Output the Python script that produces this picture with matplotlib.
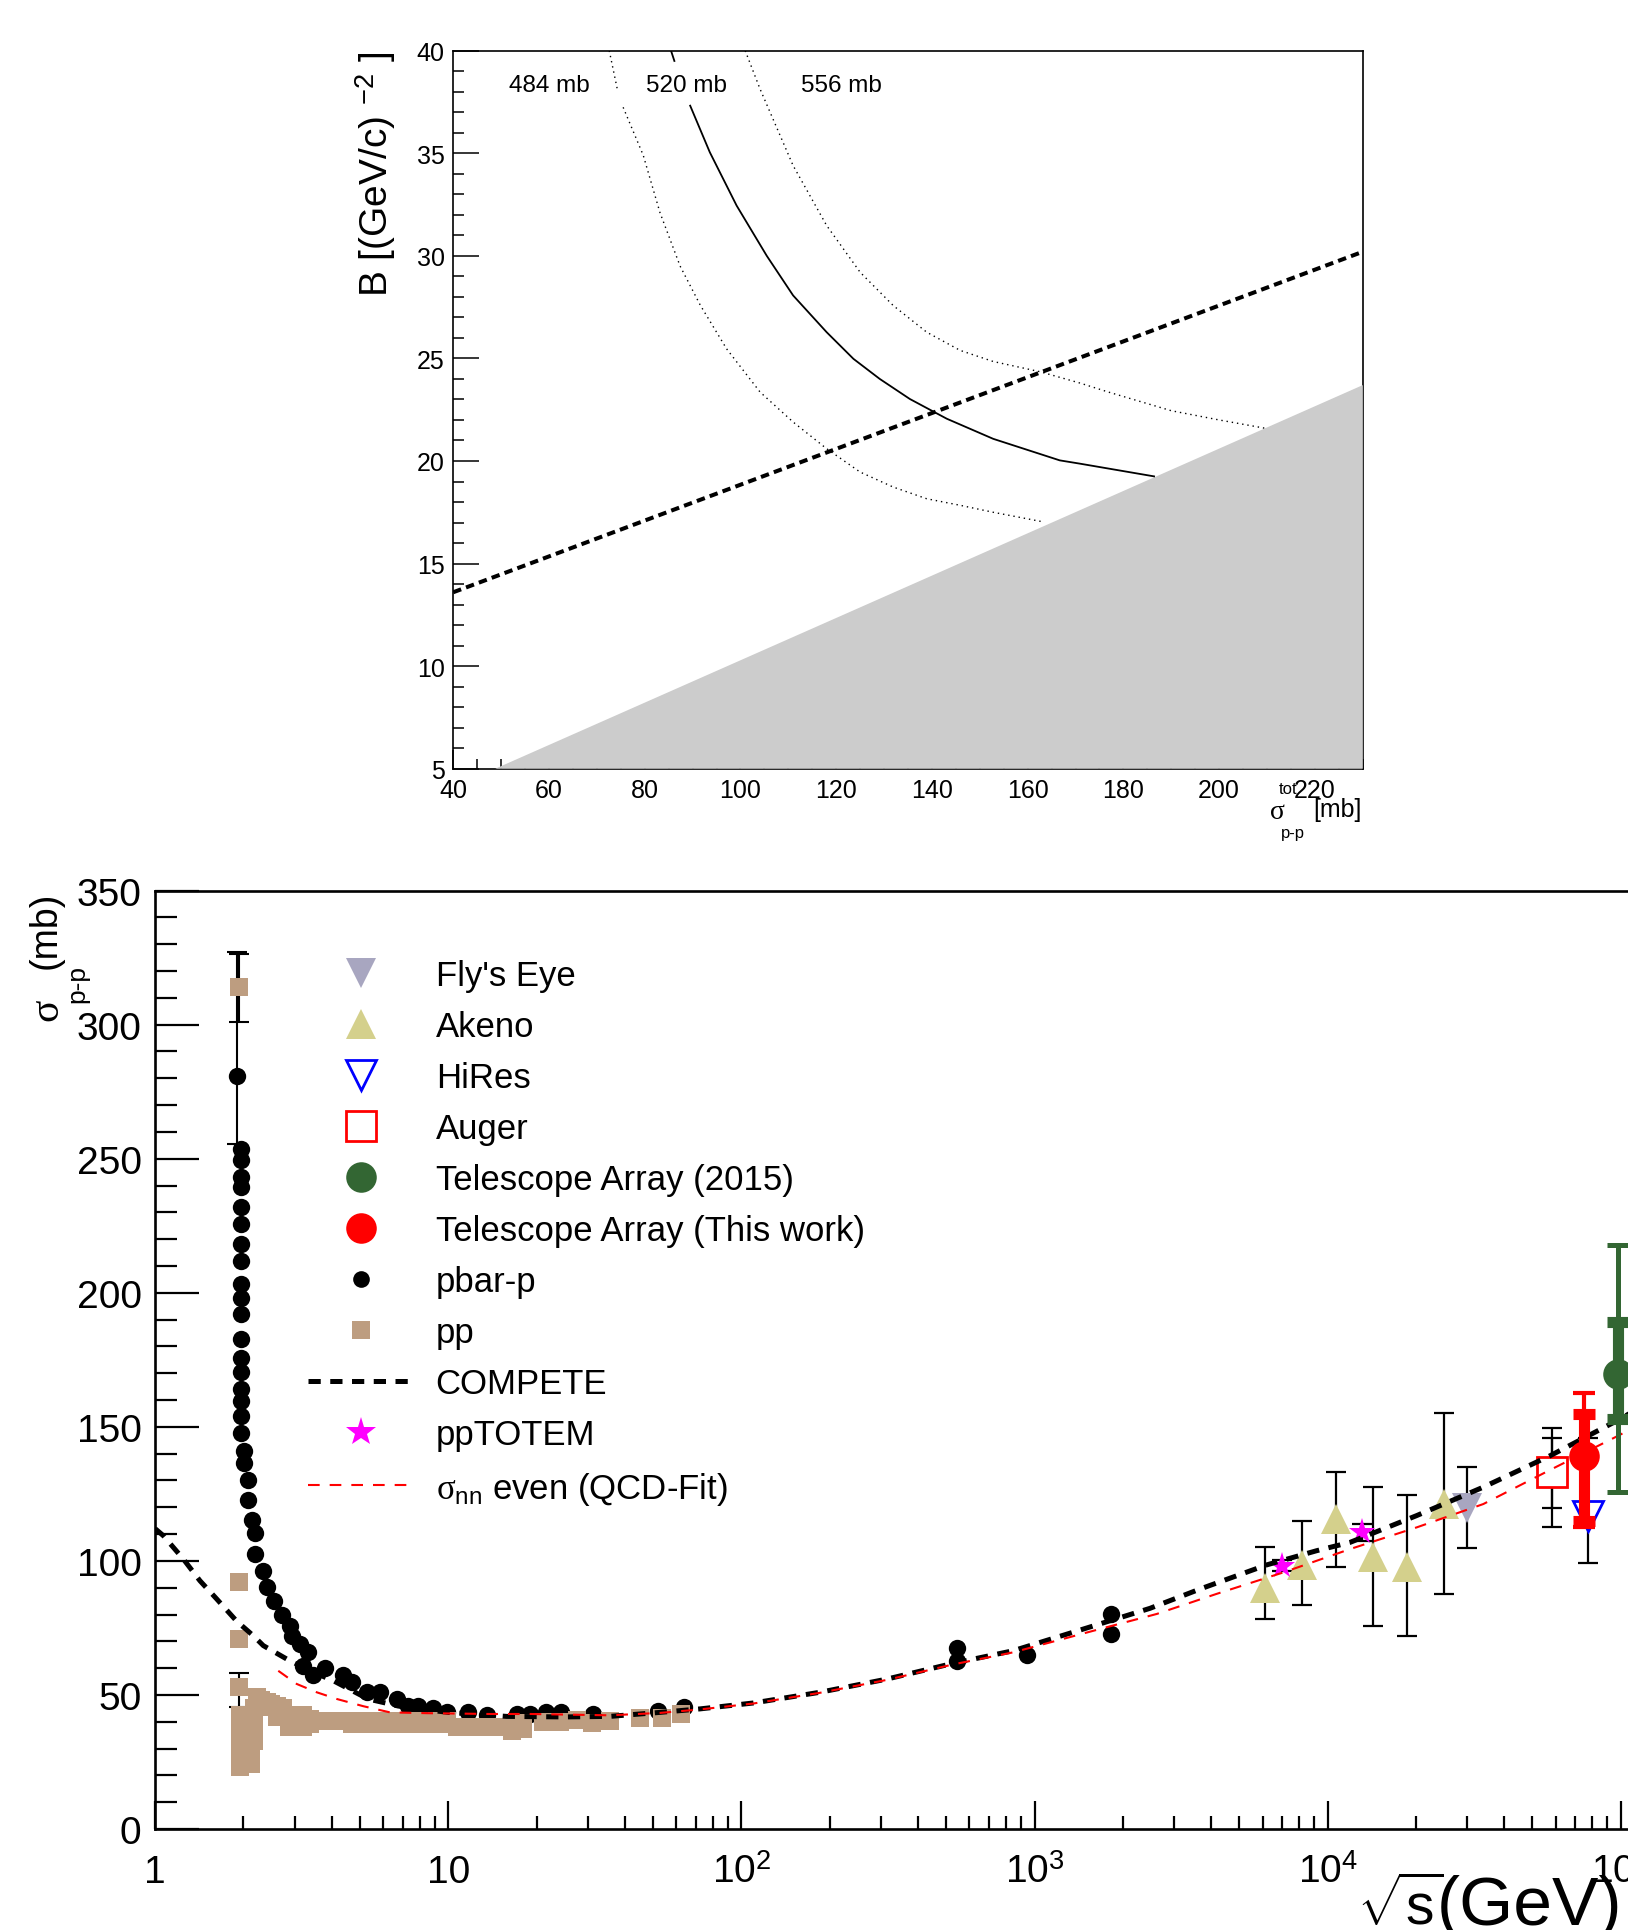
import numpy as np
import matplotlib
matplotlib.use('Agg')
import matplotlib.pyplot as plt
from matplotlib.lines import Line2D
from matplotlib.ticker import MultipleLocator, LogLocator, NullFormatter, FixedLocator

plt.rcParams['font.family'] = ['Liberation Sans', 'DejaVu Sans']
plt.rcParams['mathtext.fontset'] = 'custom'
plt.rcParams['mathtext.rm'] = 'Liberation Sans'
plt.rcParams['mathtext.it'] = 'Liberation Serif'
plt.rcParams['mathtext.bf'] = 'Liberation Sans:bold'

# --- top panel: B slope vs sigma_tot(p-p) ---
fill_sigma = [48.8, 230.0, 230.0]
fill_B = [5.0, 23.7, 5.0]
band_sigma = [40.0, 230.0]
band_B = [13.6, 30.2]

c484_sigma = [72.6, 74.3, np.nan, 75.5, 79.7, 83.2, 87.4, 91.6, 97.1, 104.1, 111.0, 118.0,
              125.0, 131.9, 138.9, 145.9, 152.8, 163.3]
c484_B = [40.0, 38.1, np.nan, 37.24, 34.9, 32.1, 29.5, 27.6, 25.47, 23.36, 21.9, 20.6,
          19.46, 18.73, 18.16, 17.84, 17.5, 17.03]
c520_sigma = [85.5, 86.2, np.nan, 89.5, 93.6, 99.2, 105.5, 111.0, 118.0, 123.6, 129.1, 135.4,
              143.1, 152.8, 166.7, 170.9, 186.4]
c520_B = [40.0, 39.5, np.nan, 37.32, 35.05, 32.45, 30.0, 28.07, 26.28, 24.98, 24.0, 23.02,
          22.06, 21.08, 20.03, 19.87, 19.25]
c556_sigma = [101.0, 104.1, 111.0, 118.0, 125.0, 131.9, 138.9, 145.9, 152.8, 162.6, 170.9,
              177.0, 190.0, 200.0, 209.5]
c556_B = [40.0, 38.13, 34.4, 31.48, 29.2, 27.58, 26.28, 25.39, 24.85, 24.35, 23.8,
          23.35, 22.45, 22.0, 21.6]
curve_labels = ['484 mb', '520 mb', '556 mb']
curve_label_sigma = [60.1, 88.8, 121.0]

# --- bottom panel: sigma_pp vs sqrt(s) ---
pbarp_x = [1.897] + [1.958] * 18 + [2.014, 2.014, 2.068, 2.073, 2.134, 2.195, 2.195, 2.327, 2.401,
           2.543, 2.701, 2.884, 2.923, 3.119, 3.33, 3.201, 3.462, 3.796, 4.384, 4.682, 5.268,
           5.848, 6.668, 7.303, 7.899, 8.889, 9.875, 11.70, 13.52, 17.12, 19.0, 21.5, 24.2,
           31.2, 52.0, 63.9, 542.8, 542.8, 940.4, 1824.0, 1824.0]
pbarp_y = [281.0, 253.6, 249.4, 243.2, 239.4, 231.9, 225.6, 218.3, 211.9, 203.3, 198.1, 191.9,
           182.8, 175.6, 170.6, 164.1, 159.5, 154.0, 147.8, 141.1, 136.4, 130.2, 122.8, 115.4,
           110.3, 102.6, 96.3, 90.2, 85.2, 79.9, 75.8, 72.1, 69.0, 65.9, 60.9, 57.4, 60.1, 57.4,
           54.7, 51.2, 51.2, 48.5, 46.0, 46.0, 45.0, 43.8, 43.5, 42.6, 42.9, 42.9, 43.5, 43.5,
           42.9, 44.1, 45.4, 67.4, 62.8, 64.9, 80.2, 72.7]
pbarp_err_x = [1.897]
pbarp_err_lo = [255.5]
pbarp_err_hi = [327.0]

pp_x = ([1.936, 1.936, 1.936, 1.936] + [1.942] * 8 + [2.117] * 5 + [2.17] * 4 +
        [2.231, 2.231, 2.30, 2.30, 2.40, 2.40, 2.48, 2.48, 2.60, 2.60, 2.72, 2.72,
         2.85, 2.85, 3.0, 3.0, 3.2, 3.2, 3.37, 3.37, 3.6, 3.9, 4.2, 4.5,
         4.7, 4.7, 5.1, 5.1, 5.5, 5.5, 6.0, 6.0, 6.5, 6.5, 7.1, 7.1, 7.7, 7.7,
         8.4, 8.4, 9.1, 9.1, 9.9, 9.9, 10.7, 11.5, 12.4, 13.3, 14.3, 15.3,
         16.5, 16.5, 18.0, 18.0, 21.1, 24.0, 27.4, 30.9, 35.7, 45.2, 53.7, 62.1])
pp_y = ([314.0, 92.0, 71.0, 53.1] +
        [42.6, 39.5, 36.5, 33.5, 30.5, 27.5, 25.0, 23.2] +
        [36.0, 33.0, 30.0, 27.0, 24.2] + [45.0, 41.0, 37.0, 32.9] +
        [49.1, 47.0, 48.0, 46.0, 47.3, 45.4, 46.5, 45.4, 46.0, 41.7, 45.0, 41.7,
         42.6, 37.9, 42.6, 37.9, 42.6, 37.9, 41.0, 39.0, 40.1, 40.1, 40.1, 40.1,
         40.4, 39.2, 40.4, 39.2, 40.4, 39.2, 40.4, 39.2, 40.4, 39.2, 40.4, 39.2, 40.4, 39.2,
         40.4, 39.2, 40.4, 39.2, 40.4, 39.2, 38.0, 38.0, 38.0, 38.0, 38.0, 38.0,
         39.5, 36.7, 39.5, 37.2, 39.9, 39.9, 40.5, 39.6, 40.4, 41.5, 41.5, 42.8])
pp_err_x = [1.936, 1.936]
pp_err_y = [314.0, 53.1]
pp_err_lo = [301.1, 45.4]
pp_err_hi = [326.4, 58.1]

flys_x = [29970.0]
flys_y = [119.9]
flys_lo = [104.8]
flys_hi = [134.9]

akeno_x = [6130.0, 8200.0, 10680.0, 14290.0, 18660.0, 24900.0]
akeno_y = [89.8, 98.5, 115.8, 101.6, 97.9, 121.3]
akeno_lo = [78.3, 83.7, 97.6, 75.6, 71.9, 87.7]
akeno_hi = [105.1, 115.0, 133.0, 127.7, 124.7, 155.0]

hires_x = [77200.0]
hires_y = [116.7]
hires_lo = [99.1]
hires_hi = [145.7]

auger_x = [58400.0]
auger_y = [133.0]
auger_stat_lo, auger_stat_hi = [119.6], [145.8]
auger_sys_lo, auger_sys_hi = [112.8], [149.7]

ta15_x = [97660.0]
ta15_y = [169.7]
ta15_stat_lo, ta15_stat_hi = [125.8], [217.7]
ta15_sys_lo, ta15_sys_hi = [152.9], [189.0]

ta_x = [75160.0]
ta_y = [139.2]
ta_stat_lo, ta_stat_hi = [112.5], [162.5]
ta_sys_lo, ta_sys_hi = [115.0], [154.8]

totem_x = [7000.0, 13100.0]
totem_y = [98.2, 110.7]
totem_lo = [96.1, 107.5]
totem_hi = [100.3, 113.8]

compete_x = [1.0, 1.066, 1.247, 1.421, 1.621, 1.897, 2.161, 2.338, 2.81, 3.374, 4.053, 5.32, 7.0,
             10.0, 15.8, 25.0, 35.6, 52.8, 72.3, 109.8, 185.4, 313.1, 528.4, 846.6, 1673.0,
             2477.0, 3670.0, 6196.0, 9177.0, 11925.0, 20140.0, 33980.0, 57380.0, 102000.0,
             110000.0]
compete_y = [112.0, 109.4, 100.7, 92.6, 85.8, 77.5, 72.1, 68.4, 63.4, 59.0, 55.3, 48.5, 45.5,
             43.5, 42.0, 41.8, 42.0, 43.5, 44.8, 47.0, 51.0, 55.9, 61.8, 66.5, 76.5,
             82.3, 89.5, 98.5, 103.8, 106.9, 116.9, 127.5, 139.2, 153.5, 155.8]

qcd_x = [2.63, 3.039, 3.556, 4.163, 5.129, 6.324, 8.44, 13.88, 19.0, 35.6, 52.8, 72.3, 109.8,
         185.4, 313.1, 528.4, 846.6, 1673.0, 2612.0, 4183.0, 7063.0, 11925.0, 20140.0,
         33980.0, 57380.0, 95700.0, 110000.0]
qcd_y = [59.0, 54.1, 51.0, 48.5, 45.8, 43.5, 43.2, 42.9, 42.9, 42.4, 43.3, 44.6, 46.8,
         50.8, 55.6, 61.4, 65.9, 74.6, 80.2, 87.7, 95.7, 104.4, 112.5,
         121.2, 133.9, 146.1, 149.5]

c_flys = '#a8a6c0'
c_akeno = '#d4d08c'
c_pp = '#bd9d80'
c_ta15 = '#336633'

W, H = 1628, 1931
fig = plt.figure(figsize=(W / 100, H / 100), dpi=100)

# ================= top panel =================
ax1 = fig.add_axes([453.2 / W, 1 - 769.7 / H, 909.6 / W, 718.0 / H])
ax1.fill(fill_sigma, fill_B, color='#cccccc', lw=0, zorder=1)
ax1.plot(band_sigma, band_B, color='k', lw=2.9, dashes=(2.1, 1.3), zorder=3)
ax1.plot(c484_sigma, c484_B, color='k', lw=1.0, dashes=(1.0, 2.8), zorder=2)
ax1.plot(c520_sigma, c520_B, color='k', lw=1.3, zorder=2)
ax1.plot(c556_sigma, c556_B, color='k', lw=1.0, dashes=(1.0, 2.8), zorder=2)
for lab, xs in zip(curve_labels, curve_label_sigma):
    ax1.text(xs, 38.35, lab, ha='center', va='center', fontsize=17.5)

ax1.set_xlim(40, 230)
ax1.set_ylim(5, 40)
ax1.set_axisbelow(True)
ax1.spines['bottom'].set_zorder(0.5)
ax1.spines['right'].set_zorder(0.5)
for s in ax1.spines.values():
    s.set_linewidth(1.2)
ax1.xaxis.set_major_locator(FixedLocator(np.arange(40, 221, 20)))
ax1.xaxis.set_minor_locator(MultipleLocator(5))
ax1.yaxis.set_major_locator(MultipleLocator(5))
ax1.yaxis.set_minor_locator(MultipleLocator(1))
ax1.tick_params(which='both', direction='in', top=False, right=False, width=1.1)
ax1.tick_params(axis='y', which='major', length=19)
ax1.tick_params(axis='y', which='minor', length=8)
ax1.tick_params(axis='x', which='major', length=14)
ax1.tick_params(axis='x', which='minor', length=7.5)
ax1.tick_params(axis='x', labelsize=18, pad=7)
ax1.tick_params(axis='y', labelsize=18, pad=6)

fig.text(376 / W, 1 - 51.7 / H, 'B [(GeV/c) $^{-2}$ ]', rotation=90, ha='center', va='top',
         fontsize=28)
fig.text(1277 / W, 1 - 812.8 / H, 'σ', family='Liberation Serif', ha='center', va='center',
         fontsize=20)
fig.text(1288 / W, 1 - 789.4 / H, 'tot', ha='center', va='center', fontsize=12)
fig.text(1293 / W, 1 - 833.7 / H, 'p-p', ha='center', va='center', fontsize=12)
fig.text(1362 / W, 1 - 810.4 / H, '[mb]', ha='right', va='center', fontsize=18)

# ================= bottom panel =================
ax2 = fig.add_axes([155.2 / W, 1 - 1830.0 / H, 1758.6 / W, 938.4 / H])
ax2.set_xscale('log')
ax2.set_xlim(1, 1e6)
ax2.set_ylim(0, 350)

ax2.plot(pbarp_x, pbarp_y, 'o', ms=12.5, color='k', mew=0, ls='none', zorder=3)
ax2.errorbar(pbarp_err_x, [pbarp_y[0]],
             yerr=[np.array([pbarp_y[0]]) - pbarp_err_lo, np.array(pbarp_err_hi) - pbarp_y[0]],
             fmt='none', ecolor='k', elinewidth=1.5, capsize=7.5, capthick=1.5, zorder=2.5)
ax2.plot(pp_x, pp_y, 's', ms=12.5, color=c_pp, mew=0, ls='none', zorder=4)
ax2.errorbar(pp_err_x, pp_err_y,
             yerr=[np.array(pp_err_y) - pp_err_lo, np.array(pp_err_hi) - pp_err_y],
             fmt='none', ecolor='k', elinewidth=1.5, capsize=7.5, capthick=1.5, zorder=3.5)


def ebar(x, y, lo, hi, color='k', lw=1.6, cap=7.5, z=3.5):
    y = np.array(y)
    ax2.errorbar(x, y, yerr=[y - np.array(lo), np.array(hi) - y], fmt='none', ecolor=color,
                 elinewidth=lw, capsize=cap, capthick=lw, zorder=z)


ebar(akeno_x, akeno_y, akeno_lo, akeno_hi)
ebar(flys_x, flys_y, flys_lo, flys_hi)
ebar(totem_x, totem_y, totem_lo, totem_hi)
ebar(hires_x, hires_y, hires_lo, hires_hi)
ebar(auger_x, auger_y, auger_sys_lo, auger_sys_hi)
ebar(auger_x, auger_y, auger_stat_lo, auger_stat_hi)
ax2.plot(akeno_x, akeno_y, '^', ms=22, color=c_akeno, mew=0, ls='none', zorder=4)
ax2.plot(flys_x, flys_y, 'v', ms=22, color=c_flys, mew=0, ls='none', zorder=4)
ax2.plot(totem_x, totem_y, '*', ms=20, color='magenta', mew=0, ls='none', zorder=4)
ax2.plot(hires_x, hires_y, 'v', ms=21, mfc='white', mec='blue', mew=2, ls='none', zorder=4)
ax2.plot(auger_x, auger_y, 's', ms=22, mfc='white', mec='red', mew=2, ls='none', zorder=4)

ax2.plot(compete_x, compete_y, color='k', lw=3.6, dashes=(2.45, 1.9), zorder=6)
ax2.plot(qcd_x, qcd_y, color='red', lw=1.5, dashes=(5.6, 4.8), zorder=6.5)

ebar(ta15_x, ta15_y, ta15_stat_lo, ta15_stat_hi, color=c_ta15, lw=3.6, cap=7.7, z=7)
ebar(ta15_x, ta15_y, ta15_sys_lo, ta15_sys_hi, color=c_ta15, lw=8, cap=7.7, z=7)
ax2.plot(ta15_x, ta15_y, 'o', ms=22, color=c_ta15, mew=0, ls='none', zorder=7.5)
ebar(ta_x, ta_y, ta_stat_lo, ta_stat_hi, color='red', lw=3, cap=7.7, z=8)
ebar(ta_x, ta_y, ta_sys_lo, ta_sys_hi, color='red', lw=8, cap=7.7, z=8)
ax2.plot(ta_x, ta_y, 'o', ms=22, color='red', mew=0, ls='none', zorder=8.5)

for s in ax2.spines.values():
    s.set_linewidth(1.9)
ax2.xaxis.set_major_locator(LogLocator(base=10, numticks=10))
ax2.xaxis.set_minor_locator(LogLocator(base=10, subs=np.arange(2, 10), numticks=100))
ax2.xaxis.set_minor_formatter(NullFormatter())
xt = [1, 10, 100, 1000, 1e4, 1e5]
ax2.set_xticks(xt, ['1', '10', '$10^{2}$', '$10^{3}$', '$10^{4}$', '$10^{5}$'])
ax2.yaxis.set_major_locator(MultipleLocator(50))
ax2.yaxis.set_minor_locator(MultipleLocator(10))
ax2.tick_params(which='both', direction='in', top=False, right=False, width=1.6)
ax2.tick_params(axis='x', which='major', length=20, labelsize=28, pad=38)
ax2.tick_params(axis='x', which='minor', length=9.6)
ax2.tick_params(axis='y', which='major', length=31.7, labelsize=28, pad=9.8)
ax2.tick_params(axis='y', which='minor', length=15.8)
for lbl in ax2.get_xticklabels():
    lbl.set_verticalalignment('baseline')

handles = [
    Line2D([], [], ls='none', marker='v', ms=22, color=c_flys, mew=0),
    Line2D([], [], ls='none', marker='^', ms=22, color=c_akeno, mew=0),
    Line2D([], [], ls='none', marker='v', ms=21, mfc='none', mec='blue', mew=2),
    Line2D([], [], ls='none', marker='s', ms=22, mfc='none', mec='red', mew=2),
    Line2D([], [], ls='none', marker='o', ms=22, color=c_ta15, mew=0),
    Line2D([], [], ls='none', marker='o', ms=22, color='red', mew=0),
    Line2D([], [], ls='none', marker='o', ms=12, color='k', mew=0),
    Line2D([], [], ls='none', marker='s', ms=12.5, color=c_pp, mew=0),
    Line2D([], [], color='k', lw=3.6, dashes=(2.45, 1.9)),
    Line2D([], [], ls='none', marker='*', ms=22, color='magenta', mew=0),
    Line2D([], [], color='red', lw=1.5, dashes=(5.6, 4.8)),
]
labels = ["Fly's Eye", 'Akeno', 'HiRes', 'Auger', 'Telescope Array (2015)',
          'Telescope Array (This work)', 'pbar-p', 'pp', 'COMPETE', 'ppTOTEM',
          r'$\sigma_{\mathrm{nn}}$ even (QCD-Fit)']
ax2.legend(handles, labels, loc='upper left', bbox_to_anchor=(307.9 / W, 1 - 960.0 / H),
           bbox_transform=fig.transFigure, frameon=False, fontsize=25, handlelength=3.08,
           handletextpad=0.6, labelspacing=0.52, borderpad=0, borderaxespad=0, numpoints=1)

# y title of the lower panel: sigma, subscript p-p, (mb)
fig.text(46 / W, 1 - 892 / H, '(mb)', rotation=90, ha='center', va='top', fontsize=27)
fig.text(77 / W, 1 - 984 / H, 'p-p', rotation=90, ha='center', va='center', fontsize=19)
fig.text(47 / W, 1 - 1010 / H, 'σ', family='Liberation Serif', rotation=90, ha='center',
         va='center', fontsize=30)
# x title of the lower panel
fig.text(1357 / W, 1 - 1925 / H, r'$\sqrt{\mathrm{s}}$', ha='left', va='baseline', fontsize=41)
fig.text(1437 / W, 1 - 1925 / H, '(GeV)', ha='left', va='baseline', fontsize=50)

fig.savefig('out.png', dpi=100)
